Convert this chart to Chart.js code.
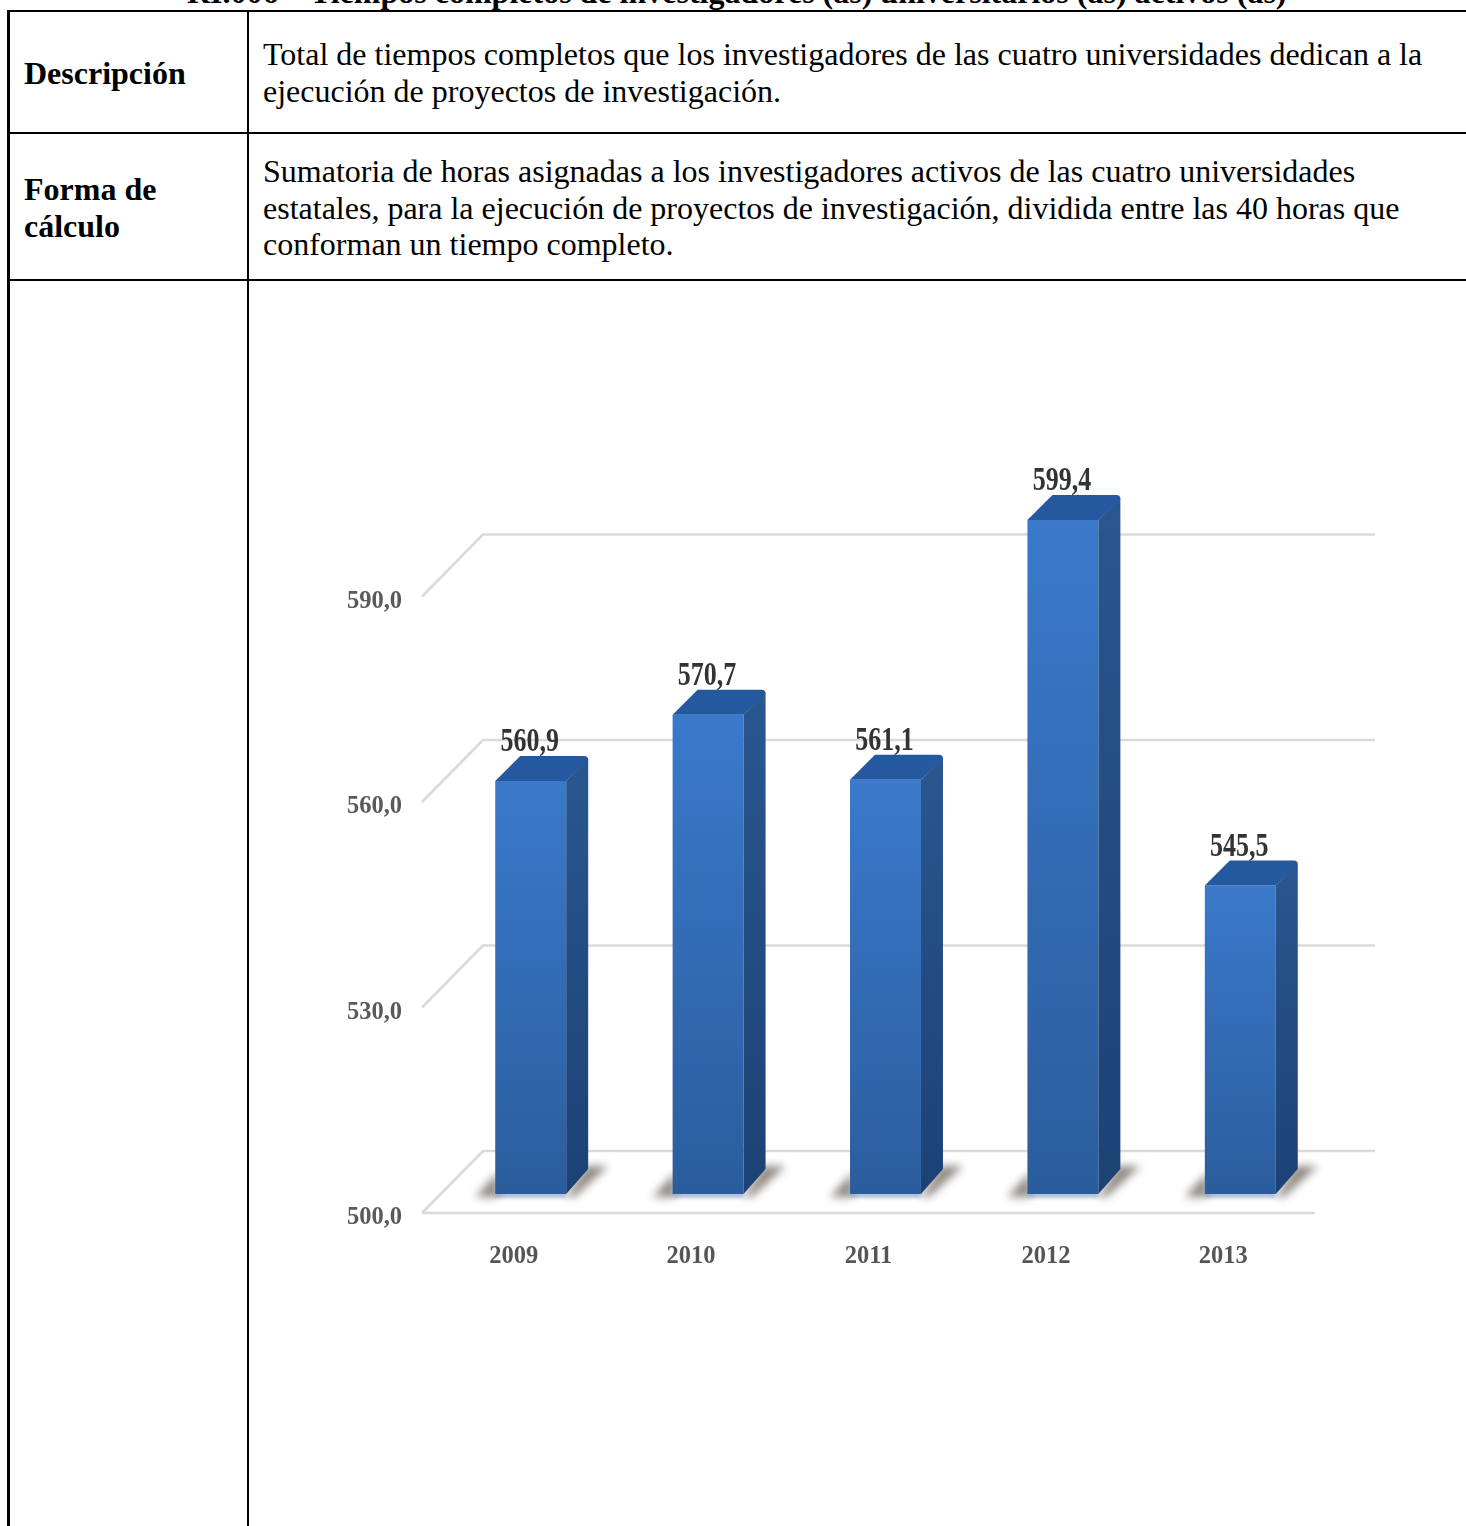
<!DOCTYPE html>
<html lang="es">
<head>
<meta charset="utf-8">
<title>RI.006</title>
<script src="https://cdn.jsdelivr.net/npm/chart.js@4"></script>
<style>
html,body{margin:0;padding:0;background:#fff;width:1466px;height:1526px;overflow:hidden}
body{position:relative;font-family:"Liberation Serif","Times New Roman",serif;color:#000}
.l{position:absolute;background:#000}
.t{position:absolute;white-space:nowrap;font-size:32px;line-height:30px}
.b{font-weight:bold}
canvas{position:absolute;left:0;top:0}
</style>
</head>
<body>
<div class="t b" style="left:187px;top:-23px">RI.006 – Tiempos completos de investigadores (as) universitarios (as) activos (as)</div>
<div class="l" style="left:7px;top:10px;width:1459px;height:2px"></div>
<div class="l" style="left:7px;top:132px;width:1459px;height:2px"></div>
<div class="l" style="left:7px;top:279px;width:1459px;height:2px"></div>
<div class="l" style="left:7px;top:10px;width:3px;height:1516px"></div>
<div class="l" style="left:247px;top:10px;width:2px;height:1516px"></div>
<div class="t b" style="left:24px;top:58px">Descripción</div>
<div class="t b" style="left:24px;top:174px">Forma de</div>
<div class="t b" style="left:24px;top:211px">cálculo</div>
<div class="t" style="left:263px;top:39px">Total de tiempos completos que los investigadores de las cuatro universidades dedican a la</div>
<div class="t" style="left:263px;top:76px">ejecución de proyectos de investigación.</div>
<div class="t" style="left:263px;top:156px">Sumatoria de horas asignadas a los investigadores activos de las cuatro universidades</div>
<div class="t" style="left:263px;top:193px">estatales, para la ejecución de proyectos de investigación, dividida entre las 40 horas que</div>
<div class="t" style="left:263px;top:229px">conforman un tiempo completo.</div>
<canvas id="c" width="1466" height="1526"></canvas>
<script>
const categories = ['2009', '2010', '2011', '2012', '2013'];
const values = [560.9, 570.7, 561.1, 599.4, 545.5];
const valueLabels = ['560,9', '570,7', '561,1', '599,4', '545,5'];
const tickValues = [500, 530, 560, 590];

const SERIF = '"Liberation Serif","Times New Roman",serif';
const BAR_SHIFT_X = 17, DEPTH_L = 25, DEPTH_R = 22, DEPTH_Y = 25, WALL_X = 61, WALL_Y = 62, LABEL_DROP = 5;

function barGeom(chart, i) {
  const el = chart.getDatasetMeta(0).data[i];
  const p = el.getProps(['x', 'y', 'base', 'width'], true);
  const l = p.x - p.width / 2 + BAR_SHIFT_X;
  return { l, r: l + p.width, top: p.y, base: p.base };
}

const scene3d = {
  id: 'scene3d',
  beforeDatasetsDraw(chart) {
    const { ctx, chartArea: a, scales } = chart;
    ctx.save();
    // gridlines on the wall and the floor
    ctx.strokeStyle = '#dadada';
    ctx.lineWidth = 2.5;
    ctx.lineJoin = 'round';
    tickValues.forEach(v => {
      const y = scales.y.getPixelForValue(v) - LABEL_DROP;
      ctx.beginPath();
      ctx.moveTo(a.left - 3, y);
      ctx.lineTo(a.left - 3 + WALL_X, y - WALL_Y);
      ctx.lineTo(a.right + 63, y - WALL_Y);
      ctx.stroke();
    });
    const y0 = scales.y.getPixelForValue(tickValues[0]) - LABEL_DROP;
    ctx.beginPath();
    ctx.moveTo(a.left - 3, y0);
    ctx.lineTo(a.right + 3, y0);
    ctx.stroke();
    // floor shadows
    ctx.filter = 'blur(4px)';
    ctx.fillStyle = 'rgba(105,96,88,0.75)';
    categories.forEach((_, i) => {
      const g = barGeom(chart, i);
      ctx.beginPath();
      ctx.moveTo(g.l - 20, g.base + 3);
      ctx.lineTo(g.l + 3, g.base + 3);
      ctx.lineTo(g.l + 3, g.base - 22);
      ctx.closePath();
      ctx.fill();
      ctx.beginPath();
      ctx.moveTo(g.r, g.base + 3);
      ctx.lineTo(g.r + 8, g.base + 3);
      ctx.lineTo(g.r + 42, g.base - 28);
      ctx.lineTo(g.r + 20, g.base - 28);
      ctx.closePath();
      ctx.fill();
    });
    ctx.filter = 'blur(2px)';
    ctx.fillStyle = 'rgba(90,120,170,0.7)';
    categories.forEach((_, i) => {
      const g = barGeom(chart, i);
      ctx.fillRect(g.l, g.base - 1, g.r - g.l, 4);
    });
    ctx.filter = 'none';
    ctx.restore();
    ctx.save();
    ctx.translate(BAR_SHIFT_X, 0);
  },
  afterDatasetsDraw(chart) {
    const { ctx } = chart;
    ctx.restore();
    ctx.save();
    categories.forEach((_, i) => {
      const g = barGeom(chart, i);
      // side face
      const side = ctx.createLinearGradient(0, g.top - DEPTH_Y, 0, g.base);
      side.addColorStop(0, '#29578f');
      side.addColorStop(1, '#1c4274');
      ctx.fillStyle = side;
      ctx.beginPath();
      ctx.moveTo(g.r, g.top);
      ctx.lineTo(g.r + DEPTH_R, g.top - DEPTH_Y + 3);
      ctx.lineTo(g.r + DEPTH_R, g.base - DEPTH_Y);
      ctx.lineTo(g.r, g.base);
      ctx.closePath();
      ctx.fill();
      // top face
      ctx.fillStyle = '#24589f';
      ctx.beginPath();
      ctx.moveTo(g.l, g.top);
      ctx.lineTo(g.l + DEPTH_L, g.top - DEPTH_Y);
      ctx.lineTo(g.r + DEPTH_R - 4, g.top - DEPTH_Y);
      ctx.quadraticCurveTo(g.r + DEPTH_R, g.top - DEPTH_Y, g.r + DEPTH_R, g.top - DEPTH_Y + 4);
      ctx.lineTo(g.r, g.top);
      ctx.closePath();
      ctx.fill();
      // value label, slightly tall like the reference lettering
      ctx.save();
      ctx.translate((g.l + g.r) / 2 - 1, g.top - DEPTH_Y - 5);
      ctx.scale(1, 1.28);
      ctx.fillStyle = '#333333';
      ctx.font = 'bold 26px ' + SERIF;
      ctx.textAlign = 'center';
      ctx.textBaseline = 'alphabetic';
      ctx.fillText(valueLabels[i], 0, 0);
      ctx.restore();
    });
    ctx.restore();
  }
};

new Chart(document.getElementById('c'), {
  type: 'bar',
  data: {
    labels: categories,
    datasets: [{
      data: values,
      base: 500,
      yAxisID: 'yBars',
      barPercentage: 0.4,
      categoryPercentage: 1,
      borderWidth: 0,
      backgroundColor(ctx) {
        const chart = ctx.chart;
        if (!chart.chartArea || ctx.dataIndex === undefined) return '#3366aa';
        const s = chart.scales.yBars;
        const g = chart.ctx.createLinearGradient(0, s.getPixelForValue(values[ctx.dataIndex]), 0, s.getPixelForValue(500));
        g.addColorStop(0, '#3a79cb');
        g.addColorStop(1, '#2b5d9d');
        return g;
      }
    }]
  },
  options: {
    responsive: false,
    animation: false,
    events: [],
    layout: { padding: { left: 300, top: 396, right: 154, bottom: 248 } },
    plugins: { legend: { display: false }, tooltip: { enabled: false }, title: { display: false } },
    scales: {
      x: {
        grid: { display: false },
        border: { display: false },
        afterFit(s) { s.height = 60; },
        ticks: { color: '#555555', padding: 16, maxRotation: 0, font: { family: SERIF, size: 24.5, weight: 'bold' } }
      },
      y: {
        min: 500, max: 620,
        grid: { display: false },
        border: { display: false },
        afterFit(s) { s.width = 125; },
        afterBuildTicks(s) { s.ticks = tickValues.map(value => ({ value })); },
        ticks: {
          color: '#5a5a5a', padding: 15,
          font: { family: SERIF, size: 24.5, weight: 'bold' },
          callback: v => v.toFixed(1).replace('.', ',')
        }
      },
      yBars: { display: false, min: 496.46, max: 617.7 }
    }
  },
  plugins: [scene3d]
});
</script>
</body>
</html>
